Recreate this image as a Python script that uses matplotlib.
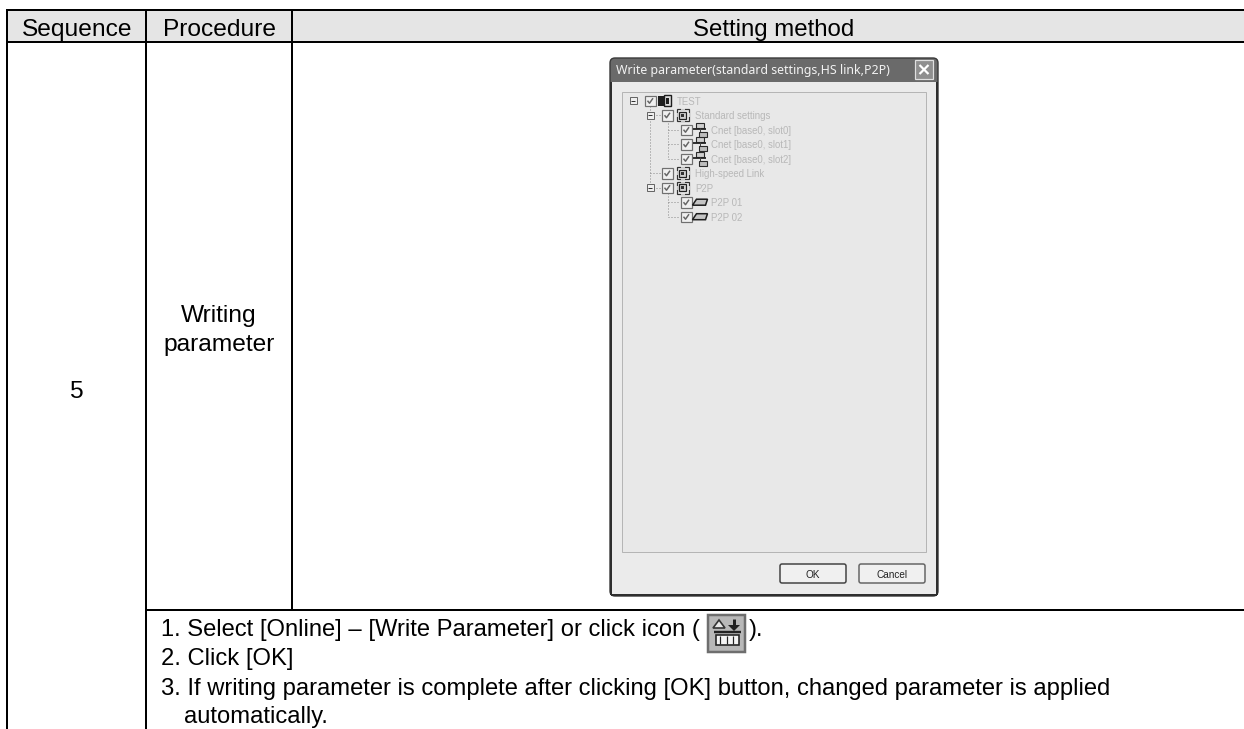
import matplotlib
matplotlib.use("Agg")
import matplotlib.pyplot as plt
from matplotlib.patches import Rectangle, FancyBboxPatch, Polygon

FONT = "Liberation Sans"
headers = ["Sequence", "Procedure", "Setting method"]
sequence_no = "5"
procedure = ["Writing", "parameter"]
notes = ["1. Select [Online] \u2013 [Write Parameter] or click icon (",
         "2. Click [OK]",
         "3. If writing parameter is complete after clicking [OK] button, changed parameter is applied",
         "automatically."]
dialog_title = "Write parameter(standard settings,HS link,P2P)"
tree_labels = ["TEST", "Standard settings", "Cnet [base0, slot0]", "Cnet [base0, slot1]",
               "Cnet [base0, slot2]", "High-speed Link", "P2P", "P2P 01", "P2P 02"]
tree_levels = [0, 1, 2, 2, 2, 1, 1, 2, 2]
tree_expand = [True, True, False, False, False, False, True, False, False]
buttons = ["OK", "Cancel"]

W, H = 1244, 729
fig = plt.figure(figsize=(W/100, H/100), dpi=100)
ax = fig.add_axes([0, 0, 1, 1])
ax.set_xlim(0, W); ax.set_ylim(H, 0); ax.axis("off")
PX = 0.72
def T(x, y, s, px, color="black", ha="left", va="baseline", **k):
    return ax.text(x, y, s, fontsize=px*PX, color=color, ha=ha, va=va, family=FONT, **k)
def R(x, y, w, h, fc="none", ec="none", lw=0, z=2):
    ax.add_patch(Rectangle((x, y), w, h, facecolor=fc, edgecolor=ec, linewidth=lw*PX, zorder=z))
def L(xs, ys, c="black", lw=2, ls="-", z=3):
    ax.plot(xs, ys, color=c, lw=lw*PX, ls=ls, zorder=z, solid_capstyle="butt")

# table
R(7, 10, W-7, 32, fc="#e5e5e5", z=1)
L([6, W], [10, 10]); L([6, W], [42, 42]); L([146, W], [610, 610])
L([7, 7], [9, H]); L([146, 146], [9, H]); L([292, 292], [9, 610])
T(77, 36, headers[0], 24.5, ha="center")
T(219.5, 36, headers[1], 24.5, ha="center")
T(773.5, 36, headers[2], 24, ha="center")
T(76, 398, sequence_no, 24.5, ha="center")
T(219, 322, procedure[0], 24.5, ha="center")
T(219, 351, procedure[1], 24.5, ha="center")
note_x = [161, 161, 161, 184]
for x, y, s in zip(note_x, [636, 665, 695, 723], notes):
    T(x, y, s, 23.75)
T(749, 636, ").", 23.75)

# toolbar icon
R(708, 615, 37, 37, fc="#b8b8b8", ec="#6e6e6e", lw=2.5)
R(716, 635, 23, 10, fc="#f4f4f4", ec="#222222", lw=1.6, z=3)
L([720, 720], [636, 644], c="#222222", lw=1.2); L([727, 727], [636, 644], c="#222222", lw=1.2)
L([733, 733], [636, 644], c="#222222", lw=1.2)
L([714, 741], [632, 632], c="#222222", lw=2.4)
ax.add_patch(Polygon([[719, 620], [713, 628], [725, 628]], fc="#e8e8e8", ec="#333333", lw=1.2, zorder=4))
L([734, 734], [619, 626], c="#222222", lw=3, z=4)
ax.add_patch(Polygon([[728, 625], [740, 625], [734, 631]], fc="#222222", ec="none", zorder=4))

# dialog
ax.add_patch(FancyBboxPatch((610, 58), 328, 538, boxstyle="round,pad=0,rounding_size=5",
                            fc="#6a6a6a", ec="#3a3a3a", lw=1, zorder=2))
R(612, 82, 324, 512, fc="#ebebeb", z=3)
L([611, 611], [82, 595], c="#2e2e2e", lw=2, z=4)
L([937, 937], [82, 595], c="#2e2e2e", lw=2, z=4)
L([611, 937], [595, 595], c="#2e2e2e", lw=2, z=4)
ax.text(616, 70, dialog_title, fontsize=12.4*PX, color="#f2f2f2", family="Noto Sans",
        va="center", ha="left", zorder=5)
R(915, 60, 18, 19, fc="#8f8f8f", ec="#e0e0e0", lw=1.2, z=4)
L([919.5, 928.5], [65, 74], c="white", lw=2.2, z=5); L([919.5, 928.5], [74, 65], c="white", lw=2.2, z=5)
R(622, 92, 304, 460, fc="#e8e8e8", ec="#b5b5b5", lw=1, z=4)

y0, dy = 100.7, 14.5
cb_x = {0: 650, 1: 667, 2: 686}
ic_x = {0: 665, 1: 682.5, 2: 699.5}
tx_x = {0: 677, 1: 695, 2: 711}
mn_x = {0: 633, 1: 650}
rows = [y0 + i*dy for i in range(len(tree_labels))]
DOT = (0, (1, 2))
L([650, 650], [rows[0]+5, rows[6]-4], c="#8a8a8a", lw=1, ls=DOT, z=5)
L([667.5, 667.5], [rows[1]+5, rows[4]], c="#8a8a8a", lw=1, ls=DOT, z=5)
L([667.5, 667.5], [rows[6]+5, rows[8]], c="#8a8a8a", lw=1, ls=DOT, z=5)
for i, (lab, lev, ex) in enumerate(zip(tree_labels, tree_levels, tree_expand)):
    y = rows[i]
    if lev == 2:
        L([668, 680], [y, y], c="#8a8a8a", lw=1, ls=DOT, z=5)
    elif lev == 1:
        L([650, 661], [y, y], c="#8a8a8a", lw=1, ls=DOT, z=5)
    if ex:
        mx = mn_x[lev]
        R(mx-3.5, y-3.5, 7, 7, fc="#eeeeee", ec="#666666", lw=1, z=6)
        L([mx-2, mx+2], [y, y], c="#333333", lw=1, z=7)
    cx = cb_x[lev]
    R(cx-5, y-5, 10.5, 10.5, fc="#f0f0f0", ec="#707070", lw=1.2, z=6)
    L([cx-2.5, cx-0.5, cx+3], [y, y+2.5, y-2.5], c="#666666", lw=1.5, z=7)
    ix = ic_x[lev]
    if lev == 0:
        R(ix-7, y-5, 6, 10, fc="#1e1e1e", z=6)
        R(ix-1, y-6, 7, 11, fc="#dddddd", ec="#1e1e1e", lw=1.4, z=6)
        R(ix+1, y-3, 3, 6, fc="#1e1e1e", z=7)
    elif lev == 1:
        R(ix-6, y-6, 12, 12, fc="none", ec="#333333", lw=1.2, z=6)
        L([ix-2, ix+2], [y-6, y-6], c="#ebebeb", lw=1.6, z=7)
        L([ix-2, ix+2], [y+6, y+6], c="#ebebeb", lw=1.6, z=7)
        L([ix-6, ix-6], [y-2, y+2], c="#ebebeb", lw=1.6, z=7)
        L([ix+6, ix+6], [y-2, y+2], c="#ebebeb", lw=1.6, z=7)
        R(ix-3.5, y-3.5, 7, 7, fc="#d0d0d0", ec="#222222", lw=1.2, z=7)
        R(ix-1.5, y-1.5, 3, 3, fc="#333333", z=8)
    elif i < 5:
        R(ix-4, y-7, 8, 5, fc="#cfcfcf", ec="#2a2a2a", lw=1.1, z=6)
        L([ix-7, ix+6], [y-1, y-1], c="#222222", lw=1.8, z=7)
        L([ix, ix], [y-2, y+3], c="#444444", lw=1, z=7)
        R(ix-1, y+2, 8.5, 5, fc="#bdbdbd", ec="#2a2a2a", lw=1.1, z=7)
    else:
        ax.add_patch(Polygon([[ix-7, y+3], [ix-3, y-3], [ix+8, y-3], [ix+6, y+3]],
                             fc="#c4c4c4", ec="#1e1e1e", lw=1.1, zorder=6))
    T(tx_x[lev], y+4, lab, 9.6, color="#b8b8b8", zorder=6)

for (x, w), lab, ec in zip([(780, 66), (859, 66)], buttons, ["#444444", "#666666"]):
    ax.add_patch(FancyBboxPatch((x, 564), w, 19, boxstyle="round,pad=0,rounding_size=2",
                                fc="#f0f0f0", ec=ec, lw=1.1, zorder=5))
    T(x+w/2, 578, lab, 10, color="#222222", ha="center", zorder=6)

fig.savefig("out.png", dpi=100)
